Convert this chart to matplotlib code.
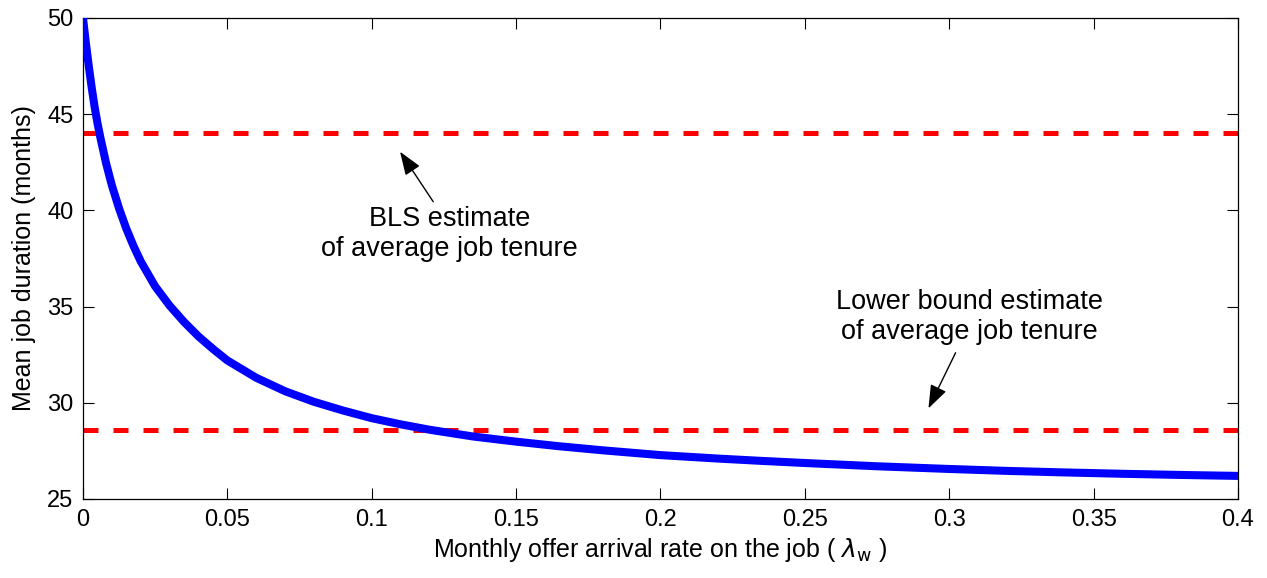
import matplotlib
matplotlib.use("Agg")
import matplotlib.pyplot as plt

plt.rcParams['font.family'] = ['Liberation Sans', 'DejaVu Sans']

# Values
rate = [0, 0.001, 0.002, 0.003, 0.004, 0.005, 0.006, 0.008, 0.010, 0.0125,
        0.015, 0.0175, 0.02, 0.025, 0.03, 0.035, 0.04, 0.045, 0.05, 0.06,
        0.07, 0.08, 0.09, 0.1, 0.11, 0.12, 0.135, 0.15, 0.165, 0.18,
        0.2, 0.22, 0.235, 0.25, 0.275, 0.3, 0.32, 0.34, 0.36, 0.38, 0.4]
duration = [50, 48.7, 47.5, 46.4, 45.4, 44.55, 43.8, 42.45, 41.3, 40.1,
            39.05, 38.15, 37.35, 36.05, 35.05, 34.2, 33.45, 32.8, 32.2, 31.3,
            30.6, 30.05, 29.6, 29.2, 28.88, 28.6, 28.25, 27.98, 27.74, 27.53,
            27.28, 27.1, 26.98, 26.87, 26.7, 26.56, 26.46, 26.38, 26.31, 26.25, 26.2]
bls_estimate = 44.0
lower_bound = 28.6
xticks = [0, 0.05, 0.1, 0.15, 0.2, 0.25, 0.3, 0.35, 0.4]
xtick_labels = ['0', '0.05', '0.1', '0.15', '0.2', '0.25', '0.3', '0.35', '0.4']
yticks = [25, 30, 35, 40, 45, 50]

fig = plt.figure(figsize=(12.67, 5.78), dpi=100)
ax = fig.add_axes([0.0655, 0.1367, 0.9771 - 0.0655, 0.9689 - 0.1367])

ax.plot(rate, duration, color='#0000ff', lw=5.8, solid_capstyle='butt',
        solid_joinstyle='round', zorder=3)
ax.axhline(bls_estimate, color='#ff0000', lw=3.6, dashes=(3, 3), zorder=2)
ax.axhline(lower_bound, color='#ff0000', lw=3.6, dashes=(3, 3), zorder=2)

ax.set_xlim(0, 0.4)
ax.set_ylim(25, 50)
ax.set_xticks(xticks)
ax.set_xticklabels(xtick_labels)
ax.set_yticks(yticks)
ax.tick_params(direction='in', length=8, width=0.8, top=True, right=True,
               labelsize=17, pad=7)
for s in ax.spines.values():
    s.set_linewidth(0.9)

ax.set_xlabel(r'Monthly offer arrival rate on the job ( $\lambda_{\rm w}$ )', fontsize=18, labelpad=4)
ax.set_ylabel('Mean job duration (months)', fontsize=18, labelpad=8)

arrow = dict(arrowstyle='-|>,head_length=0.9,head_width=0.33', color='k',
             lw=1.0, mutation_scale=16, shrinkA=0, shrinkB=0)
ax.annotate('', xy=(0.1098, 43.05), xytext=(0.1213, 40.45), arrowprops=arrow)
ax.text(0.127, 38.77, 'BLS estimate\nof average job tenure', ha='center', va='center',
        fontsize=19.5, linespacing=1.2)
ax.annotate('', xy=(0.2928, 29.71), xytext=(0.3022, 32.6), arrowprops=arrow)
ax.text(0.3069, 34.47, 'Lower bound estimate\nof average job tenure', ha='center', va='center',
        fontsize=19.5, linespacing=1.2)

fig.savefig('out.png', dpi=100)
